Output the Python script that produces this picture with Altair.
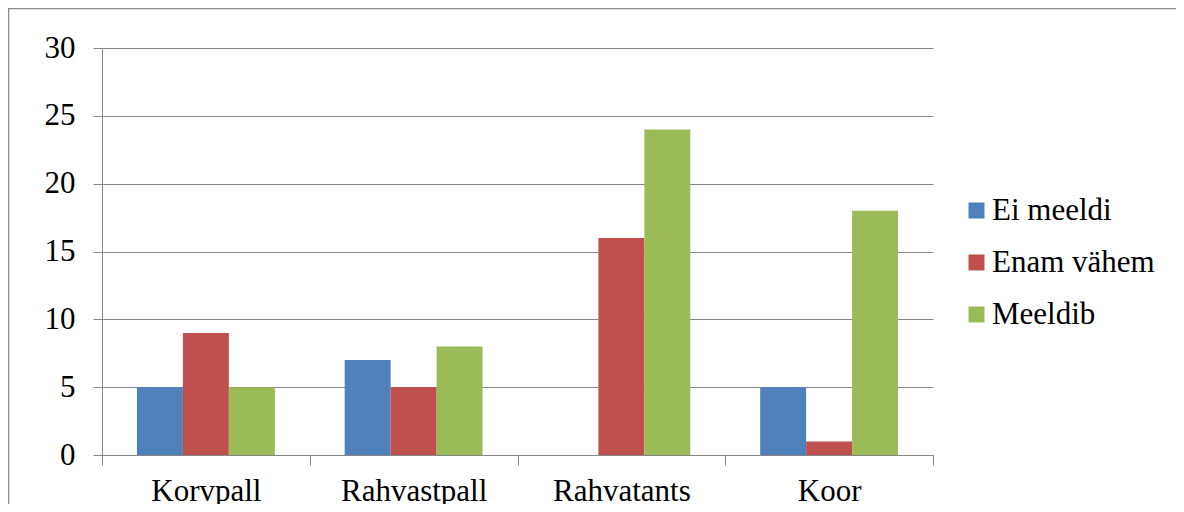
import altair as alt
import pandas as pd

categories = ["Korvpall", "Rahvastpall", "Rahvatants", "Koor"]
series = ["Ei meeldi", "Enam vähem", "Meeldib"]
ei_meeldi = [5, 7, 0, 5]
enam_vahem = [9, 5, 16, 1]
meeldib = [5, 8, 24, 18]
colors = ["#4F81BD", "#C0504D", "#9BBB59"]
y_ticks = [0, 5, 10, 15, 20, 25, 30]

rows = []
for s, vals in zip(series, [ei_meeldi, enam_vahem, meeldib]):
    for c, v in zip(categories, vals):
        rows.append({"cat": c, "series": s, "val": v})
df = pd.DataFrame(rows)

FONT = "Liberation Serif"
GRAY = "#868686"
W, H = 831, 407

bars = alt.Chart(df).mark_bar().encode(
    x=alt.X("cat:N", sort=categories,
            scale=alt.Scale(paddingInner=0, paddingOuter=0),
            axis=alt.Axis(title=None, labelAngle=0, tickBand="extent",
                          tickSize=10, labelPadding=11, domainColor=GRAY,
                          tickColor=GRAY, labelFont=FONT, labelFontSize=31,
                          labelColor="black", grid=False, labelLimit=0)),
    xOffset=alt.XOffset("series:N", sort=series,
                        scale=alt.Scale(paddingOuter=0.76, paddingInner=0)),
    y=alt.Y("val:Q", scale=alt.Scale(domain=[0, 30], nice=False),
            axis=alt.Axis(title=None, values=y_ticks, grid=True, gridColor=GRAY,
                          tickSize=9, labelPadding=18, domainColor=GRAY,
                          tickColor=GRAY, labelFont=FONT, labelFontSize=31,
                          labelColor="black")),
    color=alt.Color("series:N", sort=series,
                    scale=alt.Scale(domain=series, range=colors),
                    legend=alt.Legend(title=None, orient="none", legendX=859,
                                      legendY=147, symbolType="square",
                                      symbolSize=256, symbolStrokeWidth=0,
                                      labelFont=FONT, labelFontSize=31,
                                      labelColor="black", rowPadding=20,
                                      labelOffset=0, labelLimit=0)),
)

one = pd.DataFrame({"a": [0]})
frame_left = alt.Chart(one).mark_rule(stroke="#8C8C8C", strokeWidth=2.5).encode(
    x=alt.value(-94), y=alt.value(-41), y2=alt.value(700)
)
frame_top = alt.Chart(one).mark_rule(stroke="#8C8C8C", strokeWidth=2.5).encode(
    y=alt.value(-40), x=alt.value(-95), x2=alt.value(1300)
)

chart = (
    alt.layer(frame_left, frame_top, bars)
    .properties(
        width=W, height=H,
        autosize=alt.AutoSizeParams(type="none"),
        padding={"left": 94, "top": 40, "right": 1168 - 94 - W, "bottom": 496 - 40 - H},
        background="white",
    )
    .configure(font=FONT)
    .configure_axis(labelFont=FONT)
    .configure_legend(labelFont=FONT)
    .configure_view(stroke=None)
)

chart.save("out.html", embed_options={"renderer": "svg", "actions": False})
